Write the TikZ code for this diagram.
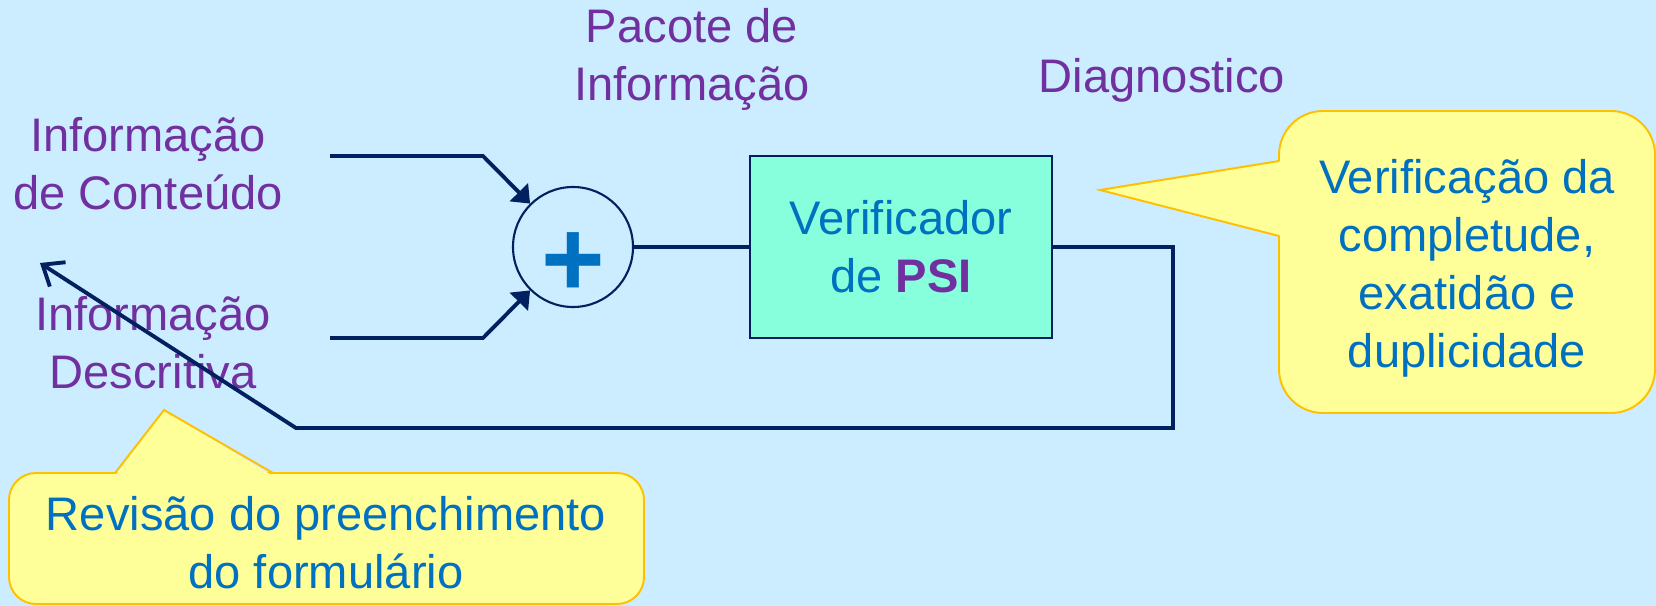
\documentclass[tikz,border=0pt]{standalone}
\usepackage{fontspec}
\setmainfont{Liberation Sans}
\usetikzlibrary{positioning}
\usetikzlibrary{arrows.meta}

\begin{document}
\begin{tikzpicture}[x=0.1mm,y=-0.1mm]

            % COLORS
            \definecolor{bgcolor}{RGB}{204,236,255}
            \definecolor{labelcolor}{RGB}{112,48,160}
            \definecolor{bluecolor}{RGB}{0,112,192}
            \definecolor{linecolor}{RGB}{0,32,96}
            \definecolor{boxcolor}{RGB}{136,255,220}
            \definecolor{notecolor}{RGB}{255,255,153}
            \definecolor{noteborder}{RGB}{255,192,0}

            % DEF STYLES
            \tikzstyle{labelstyle} = [text=labelcolor, align=center, inner sep=0pt, font=\fontsize{13.4}{16.5}\selectfont]
            \tikzstyle{notetext} = [labelstyle, text=bluecolor]
            \tikzstyle{edgestyle} = [line width=1.1pt, color=linecolor]
            \tikzstyle{notestyle} = [fill=notecolor, draw=noteborder, line width=0.55pt]

            % BACKGROUND
            \fill[bgcolor] (0,0) rectangle (1656,606);
            \useasboundingbox (0,0) rectangle (1656,606);

            % DEF COORDINATES
            \coordinate (start1) at (330,156);
            \coordinate (bend1) at (483,156);
            \coordinate (start2) at (330,338);
            \coordinate (bend2) at (483,338);
            \coordinate (back1) at (1173,247);
            \coordinate (back2) at (1173,428);
            \coordinate (back3) at (296,428);
            \coordinate (backtip) at (40,263);

            % CALLOUTS
            \draw[notestyle, rounded corners=4.4mm] (1279,111) rectangle (1655,413);
            \fill[notecolor] (1282,161) -- (1100,190) -- (1282,236) -- cycle;
            \draw[noteborder, line width=0.55pt] (1279,161) -- (1100,190) -- (1279,236);
            \node[notetext] (note1) at (1467,268) {Verificação da\\completude,\\exatidão e\\duplicidade};

            \draw[notestyle, rounded corners=2.7mm] (9,473) rectangle (644,604);
            \fill[notecolor] (115,476) -- (164,410) -- (273,476) -- cycle;
            \draw[noteborder, line width=0.55pt] (115,473) -- (164,410) -- (273,473);
            \node[notetext] (note2) at (326,543) {Revisão do preenchimento\\do formulário};

            % NODES
            \node[circle, draw=linecolor, line width=0.6pt, minimum size=12mm, inner sep=0pt] (sum) at (573,247) {};
            \node[text=bluecolor, inner sep=0pt, font=\fontsize{31}{31}\selectfont\bfseries] (plus) at (573,265) {+};
            \node[notetext, draw=linecolor, fill=boxcolor, line width=0.7pt, minimum width=30.2mm, minimum height=18.2mm] (verif) at (901,247) {Verificador\\de \textbf{\color{labelcolor}PSI}};

            % LABELS
            \node[labelstyle] (pacote) at (692,59) {Pacote de\\Informação};
            \node[labelstyle, anchor=base] (diag) at (1162,93) {Diagnostico};
            \node[labelstyle] (conteudo) at (148,164) {Informação\\de Conteúdo};
            \node[labelstyle] (descritiva) at (153,343) {Informação\\Descritiva};

            % EDGES
            \foreach \i in {1,2} {
              \draw[edgestyle, -{Triangle[length=1.6mm,width=2.5mm]}] (start\i) -- (bend\i) -- (sum);
            }
            \draw[edgestyle] (sum) -- (verif);
            \draw[edgestyle, -{Straight Barb[length=1.8mm,width=2.9mm]}] (verif) -- (back1) -- (back2) -- (back3) -- (backtip);

\end{tikzpicture}
\end{document}
